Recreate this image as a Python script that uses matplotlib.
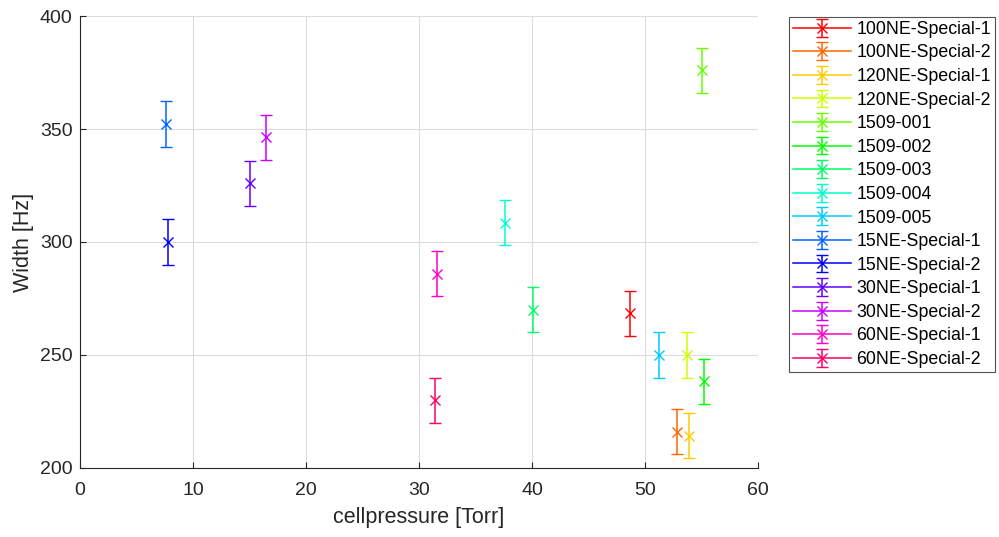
import colorsys
import matplotlib
matplotlib.use("Agg")
import matplotlib.pyplot as plt

# series, one point each
names = ["100NE-Special-1", "100NE-Special-2", "120NE-Special-1", "120NE-Special-2",
         "1509-001", "1509-002", "1509-003", "1509-004", "1509-005",
         "15NE-Special-1", "15NE-Special-2", "30NE-Special-1", "30NE-Special-2",
         "60NE-Special-1", "60NE-Special-2"]
pressure = [48.7, 52.8, 53.9, 53.7, 55.0, 55.2, 40.1, 37.6, 51.2,
            7.6, 7.8, 15.0, 16.5, 31.6, 31.4]
width = [268.5, 216.0, 214.3, 250.0, 376.0, 238.3, 270.0, 308.5, 250.0,
         352.2, 300.0, 326.0, 346.3, 286.0, 230.0]
err = [10] * 15

xticks = [0, 10, 20, 30, 40, 50, 60]
yticks = [200, 250, 300, 350, 400]

plt.rcParams['font.family'] = ['Liberation Sans', 'DejaVu Sans']
txt = '#262626'

fig = plt.figure(figsize=(9.99, 5.37), dpi=100)
ax = fig.add_axes([0.0801, 0.1285, 0.6787, 0.8417])

n = len(names)
for i in range(n):
    c = colorsys.hsv_to_rgb(i / n, 1, 1)
    # '-x' so the legend handle gets the horizontal line (one point => no line drawn)
    ax.errorbar(pressure[i], width[i], yerr=err[i], fmt='-x', color=c,
                ecolor=c, elinewidth=1.1, capsize=4.5, capthick=1.1,
                markersize=7, markeredgewidth=1.0, linewidth=1.1, label=names[i])

ax.set_xlim(0, 60)
ax.set_ylim(200, 400)
ax.set_xticks(xticks)
ax.set_yticks(yticks)
ax.grid(True, color='#dcdcdc', linewidth=0.8)
ax.set_axisbelow(True)
for s in ['top', 'right']:
    ax.spines[s].set_visible(False)
for s in ['left', 'bottom']:
    ax.spines[s].set_color(txt)
ax.tick_params(direction='in', length=4, labelsize=14, colors=txt)
ax.tick_params(axis='x', pad=10)
ax.tick_params(axis='y', pad=5.5)
ax.set_xlabel('cellpressure [Torr]', fontsize=15.5, color=txt, labelpad=6)
ax.set_ylabel('Width [Hz]', fontsize=15.5, color=txt, labelpad=4)

leg = ax.legend(loc='upper left', bbox_to_anchor=(789 / 999, 1 - 17 / 537),
                bbox_transform=fig.transFigure, fontsize=12.8, frameon=True,
                fancybox=False, edgecolor=txt, borderaxespad=0,
                handlelength=3.26, handletextpad=0.3, labelspacing=0.37,
                borderpad=0.22)
leg.get_frame().set_linewidth(0.8)

fig.savefig('out.png', dpi=100)
